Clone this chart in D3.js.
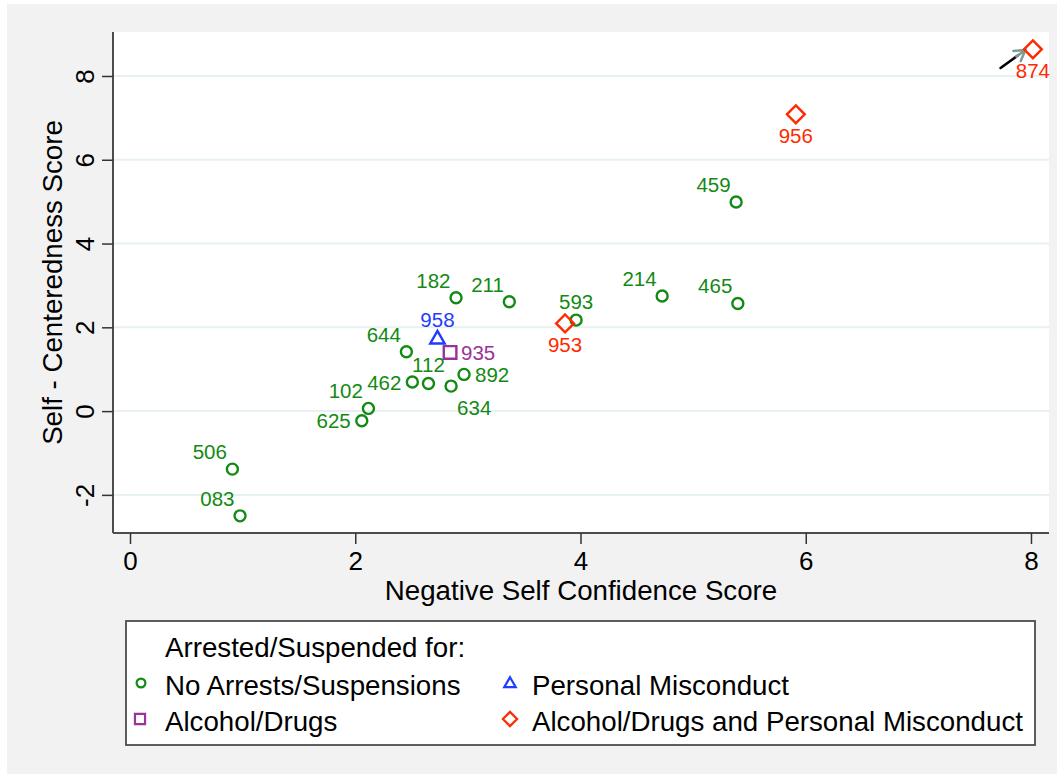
<!DOCTYPE html>
<html><head><meta charset="utf-8">
<script src="https://cdn.jsdelivr.net/npm/d3@7"></script>
<style>
html,body{margin:0;padding:0;background:#fff;}
text{font-family:"Liberation Sans",Arial,Helvetica,sans-serif;}
</style></head>
<body>
<svg id="chart" width="1062" height="778"></svg>
<script>
// ---- data ----
const ids    = ["874","956","459","465","214","593","953","211","182","958","935","644","892","112","462","634","102","625","506","083"];
const xVals  = [8.017,5.912,5.382,5.397,4.725,3.961,3.863,3.368,2.895,2.73,2.842,2.454,2.966,2.65,2.507,2.851,2.117,2.058,0.909,0.977];
const yVals  = [8.637,7.085,4.99,2.57,2.746,2.173,2.094,2.61,2.706,1.74,1.40,1.416,0.876,0.66,0.693,0.597,0.064,-0.23,-1.385,-2.50];
const groups = ["both","both","none","none","none","none","both","none","none","pers","alc","none","none","none","none","none","none","none","none","none"];
// label clock positions (Stata mlabvposition style)
const labelClock = [6,6,11,11,11,12,6,11,11,12,3,11,3,12,9,5,11,9,11,11];
const xTicks = [0,2,4,6,8];
const yTicks = [-2,0,2,4,6,8];
const xDomain = [-0.151, 8.16];
const yDomain = [-2.91, 9.05];
const xTitle = "Negative Self Confidence Score";
const yTitle = "Self - Centeredness Score";
const legendTitle = "Arrested/Suspended for:";
const legendKeys = ["none","pers","alc","both"];
const legendLabels = ["No Arrests/Suspensions","Personal Misconduct","Alcohol/Drugs","Alcohol/Drugs and Personal Misconduct"];
const arrowFrom = [7.73, 8.19];
const arrowTo = [7.95, 8.62];

// ---- styles ----
const colors = {none:"#138a13", pers:"#1f3dff", alc:"#993399", both:"#ff2a00"};
const svg = d3.select("#chart");
const plot = {left:113, right:1049, top:32, bottom:533};
const bigFont = 27.7;

svg.append("rect").attr("x",7).attr("y",4).attr("width",1050).attr("height",770).attr("fill","#f2f2f2");
svg.append("rect").attr("x",plot.left).attr("y",plot.top).attr("width",plot.right-plot.left).attr("height",plot.bottom-plot.top).attr("fill","#fff");

const x = d3.scaleLinear().domain(xDomain).range([plot.left, plot.right]);
const y = d3.scaleLinear().domain(yDomain).range([plot.bottom, plot.top]);

// grid
svg.append("g").selectAll("line").data(yTicks).join("line")
  .attr("x1",plot.left).attr("x2",plot.right)
  .attr("y1",d=>y(d)).attr("y2",d=>y(d))
  .attr("stroke","#e8f1f1").attr("stroke-width",2);

const fmt = d => String(d);

// axes
const xAxis = d3.axisBottom(x).tickValues(xTicks).tickSize(11).tickPadding(8).tickFormat(fmt);
const gx = svg.append("g").attr("transform",`translate(0,${plot.bottom})`).call(xAxis);
gx.select(".domain").attr("d",`M${plot.left},0H${plot.right}`).attr("stroke","#4d4d4d").attr("stroke-width",2);
gx.selectAll(".tick line").attr("stroke","#333").attr("stroke-width",1.5);
gx.selectAll(".tick text").attr("font-size",26).attr("fill","#000").attr("font-family","Liberation Sans, Arial, sans-serif");

const yAxis = d3.axisLeft(y).tickValues(yTicks).tickSize(11).tickFormat(fmt);
const gy = svg.append("g").attr("transform",`translate(${plot.left},0)`).call(yAxis);
gy.select(".domain").attr("d",`M0,${plot.bottom}V${plot.top}`).attr("stroke","#4d4d4d").attr("stroke-width",2);
gy.selectAll(".tick line").attr("stroke","#333").attr("stroke-width",1.5);
gy.selectAll(".tick text").attr("font-size",26).attr("fill","#000")
  .attr("font-family","Liberation Sans, Arial, sans-serif")
  .attr("x",0).attr("dy",0).attr("text-anchor","middle")
  .attr("transform","translate(-19,0) rotate(-90)");

// axis titles
svg.append("text").attr("x",(plot.left+plot.right)/2).attr("y",600).attr("text-anchor","middle")
  .attr("font-size",bigFont).text(xTitle);
svg.append("text").attr("transform",`translate(62,${(plot.top+plot.bottom)/2}) rotate(-90)`)
  .attr("text-anchor","middle").attr("font-size",bigFont).text(yTitle);

// symbols
function symPath(g, s){
  if(g==="none") return d3.symbol(d3.symbolCircle, Math.PI*Math.pow(5.5*s,2))();
  if(g==="alc"){const a=6.3*s; return `M${-a},${-a}H${a}V${a}H${-a}Z`;}
  if(g==="pers"){const w=7.2*s,h=12.5*s; return `M0,${-h*0.58}L${w},${h*0.42}L${-w},${h*0.42}Z`;}
  const r=8.9*s; return `M0,${-r}L${r},0L0,${r}L${-r},0Z`;
}

// arrow
svg.append("line").attr("x1",x(arrowFrom[0])).attr("y1",y(arrowFrom[1]))
  .attr("x2",x(arrowFrom[0])+(x(arrowTo[0])-x(arrowFrom[0]))*0.72).attr("y2",y(arrowFrom[1])+(y(arrowTo[1])-y(arrowFrom[1]))*0.72)
  .attr("stroke","#000").attr("stroke-width",2.5).attr("stroke-linecap","round");
{
  const tx=x(arrowTo[0]), ty=y(arrowTo[1]);
  const fx=x(arrowFrom[0]), fy=y(arrowFrom[1]);
  const ang=Math.atan2(ty-fy, tx-fx);
  const L=12, sp=0.55;
  const p1=[tx-L*Math.cos(ang-sp), ty-L*Math.sin(ang-sp)];
  const p2=[tx-L*Math.cos(ang+sp), ty-L*Math.sin(ang+sp)];
  const bx=tx-11*Math.cos(ang), by=ty-11*Math.sin(ang);
  svg.append("path").attr("d",`M${p1[0]},${p1[1]}L${tx},${ty}L${p2[0]},${p2[1]}M${bx},${by}L${tx},${ty}`)
    .attr("fill","none").attr("stroke","#7f9c94").attr("stroke-width",2.5).attr("stroke-linecap","round");
}

// points
const pts = ids.map((id,i)=>({id, x:xVals[i], y:yVals[i], g:groups[i], c:labelClock[i]}));
const gp = svg.append("g");
gp.selectAll("path").data(pts).join("path")
  .attr("transform",d=>`translate(${x(d.x)},${y(d.y)})`)
  .attr("d",d=>symPath(d.g,1))
  .attr("fill","none").attr("stroke",d=>colors[d.g]).attr("stroke-width",2.4);

// labels
const off = {
  11:{dx:-5.5,dy:-10,a:"end"},
  12:{dx:0,dy:-11.5,a:"middle"},
  3:{dx:11,dy:7.5,a:"start"},
  9:{dx:-11,dy:7.5,a:"end"},
  6:{dx:0,dy:29,a:"middle"},
  5:{dx:6,dy:29,a:"start"}
};
gp.selectAll("text").data(pts).join("text")
  .attr("x",d=>x(d.x)+off[d.c].dx).attr("y",d=>y(d.y)+off[d.c].dy)
  .attr("text-anchor",d=>off[d.c].a).attr("font-size",20.5)
  .attr("fill",d=>colors[d.g]).text(d=>d.id);

// legend
const lg = svg.append("g");
lg.append("rect").attr("x",126).attr("y",621).attr("width",909).attr("height",124)
  .attr("fill","#fff").attr("stroke","#4d4d4d").attr("stroke-width",1.8);
lg.append("text").attr("x",165).attr("y",657).attr("font-size",bigFont).text(legendTitle);
const lpos = [[141,683,165,695],[510,683,532,695],[140,719,165,731],[510,719,532,731]];
legendKeys.forEach((k,i)=>{
  const p=lpos[i];
  lg.append("path").attr("transform",`translate(${p[0]},${p[1]})`).attr("d",symPath(k,0.8))
    .attr("fill","none").attr("stroke",colors[k]).attr("stroke-width",2.2);
  lg.append("text").attr("x",p[2]).attr("y",p[3]).attr("font-size",bigFont).text(legendLabels[i]);
});
</script>
</body></html>
